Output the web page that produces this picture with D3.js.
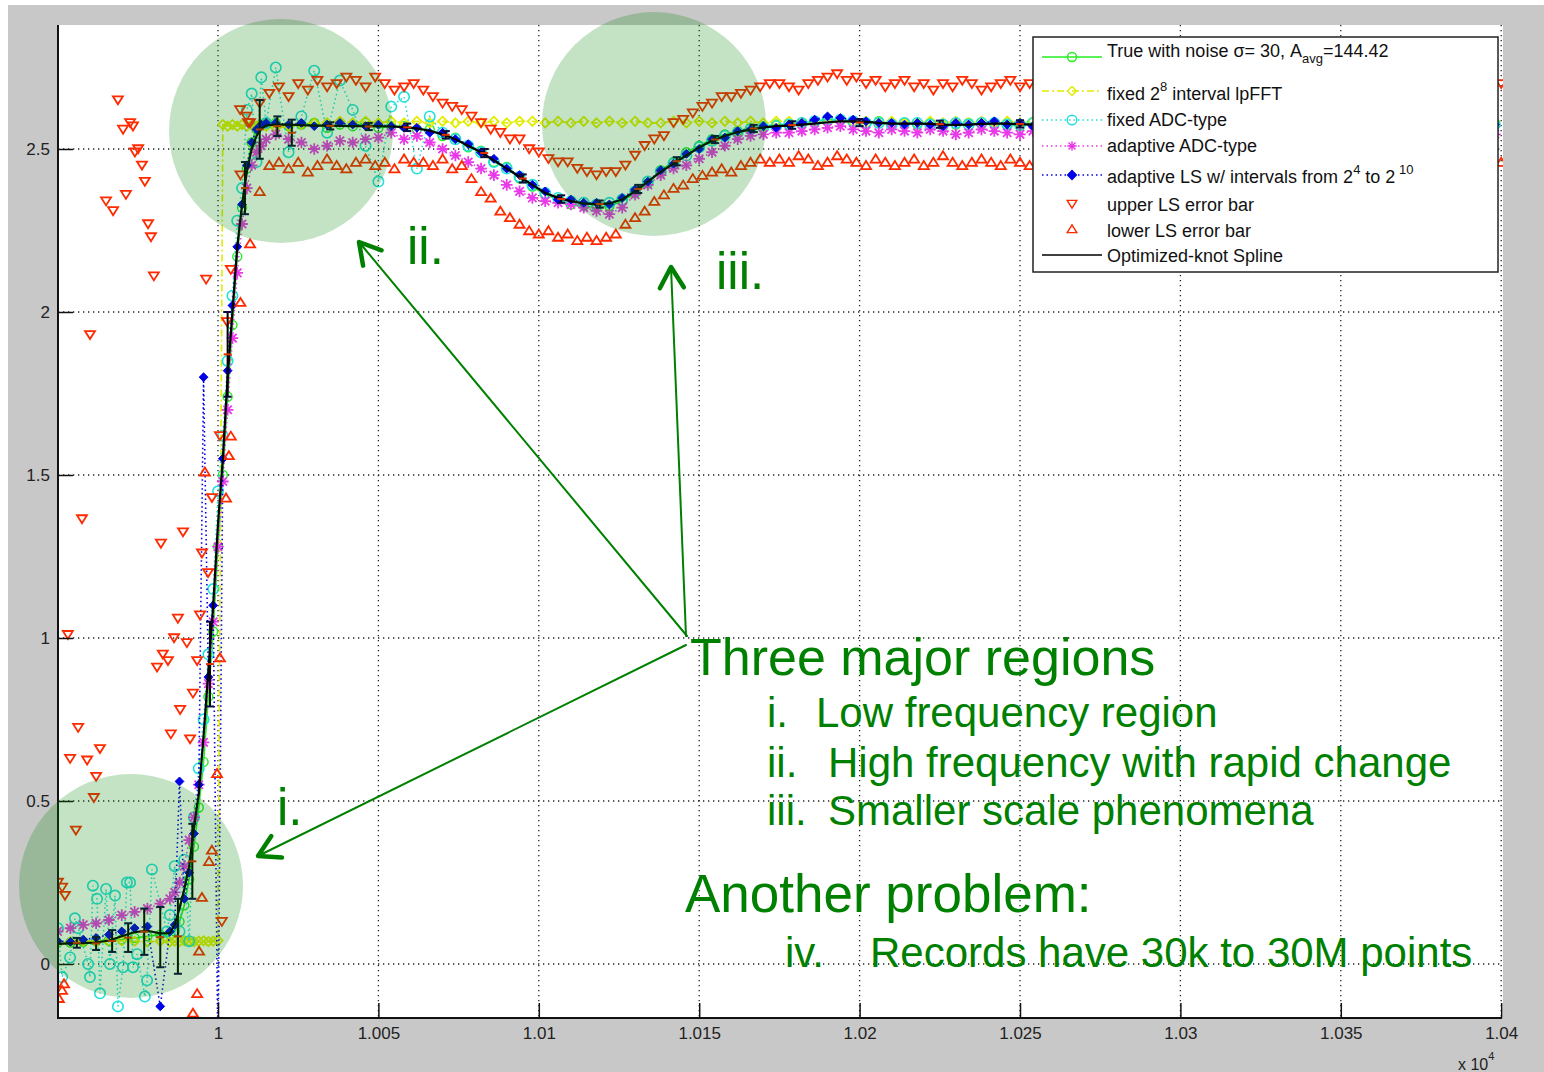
<!DOCTYPE html>
<html>
<head>
<meta charset="utf-8">
<script src="https://cdnjs.cloudflare.com/ajax/libs/d3/7.8.5/d3.min.js"></script>
<style>
  body { margin: 0; background: #fff; }
  svg { display: block; font-family: "Liberation Sans", Arial, sans-serif; }
</style>
</head>
<body>
<svg role="chart"></svg>
<script>
// ---- data (x in raw units, axis shows x / 1e4) ----
var xTickValues = [10000, 10050, 10100, 10150, 10200, 10250, 10300, 10350, 10400];
var xTickLabels = ['1', '1.005', '1.01', '1.015', '1.02', '1.025', '1.03', '1.035', '1.04'];
var yTickValues = [0, 0.5, 1, 1.5, 2, 2.5];
var yTickLabels = ['0', '0.5', '1', '1.5', '2', '2.5'];

// sample positions of the smooth series: flat start, the step, the rest
var xSegA = d3.range(9950, 9985, 4);      // 9
var xSegB = d3.range(9985, 10016, 1.5);   // 21
var xSegC = d3.range(10018, 10400, 4);    // 96
var xErrBand = d3.range(10004, 10401, 3); // 133

// Optimized-knot Spline
var splineA = [0.062,0.063,0.064,0.066,0.072,0.085,0.098,0.102,0.094];
var splineB = [0.095,0.12,0.17,0.23,0.30,0.42,0.52,0.70,0.90,1.10,1.35,1.55,1.80,2.00,2.20,2.33,2.43,2.50,2.54,2.562,2.572];
var splineC = [
  2.575,2.575,2.573,2.572,2.572,2.571,2.570,2.570,2.570,2.569,
  2.567,2.563,2.556,2.545,2.530,2.510,2.490,2.465,2.440,2.415,
  2.390,2.365,2.350,2.340,2.333,2.330,2.333,2.345,2.370,2.400,
  2.430,2.455,2.480,2.505,2.525,2.540,2.552,2.560,2.566,2.570,
  2.572,2.575,2.578,2.582,2.585,2.585,2.583,2.580,2.578,2.578,
  2.578,2.577,2.575,2.574,2.575,2.577,2.578,2.578,2.576,2.575,
  2.574,2.573,2.574,2.576,2.577,2.577,2.576,2.575,2.574,2.574,
  2.575,2.576,2.577,2.577,2.576,2.575,2.574,2.574,2.575,2.576,
  2.577,2.577,2.576,2.575,2.574,2.574,2.575,2.576,2.576,2.575,
  2.574,2.574,2.575,2.576,2.576,2.575];

// True with noise
var truthA = [0.065,0.066,0.068,0.07,0.072,0.075,0.08,0.085,0.09];
var truthB = [0.09,0.10,0.13,0.18,0.26,0.36,0.48,0.62,0.82,1.02,1.28,1.50,1.74,1.96,2.17,2.32,2.44,2.52,2.56,2.575,2.58];
var truthC = [
  2.58,2.57,2.575,2.58,2.565,2.575,2.57,2.58,2.565,2.57,
  2.57,2.56,2.56,2.54,2.535,2.505,2.495,2.46,2.445,2.41,
  2.385,2.36,2.345,2.33,2.325,2.32,2.325,2.34,2.365,2.395,
  2.435,2.46,2.49,2.51,2.53,2.545,2.555,2.565,2.57,2.575,
  2.575,2.58,2.585,2.59,2.59,2.585,2.58,2.585,2.575,2.58,
  2.575,2.58,2.57,2.575,2.58,2.575,2.58,2.575,2.57,2.58,
  2.575,2.57,2.58,2.575,2.58,2.575,2.57,2.58,2.575,2.57,
  2.58,2.575,2.58,2.57,2.575,2.58,2.57,2.575,2.58,2.575,
  2.57,2.58,2.575,2.57,2.58,2.575,2.57,2.575,2.58,2.575,
  2.57,2.58,2.575,2.57,2.58,2.575];

// fixed 2^8 interval lpFFT
var lpfftA = [0.065,0.068,0.07,0.068,0.07,0.072,0.07,0.068,0.07];
var lpfftB = [0.068,0.07,0.069,0.071,0.07,0.068,0.07,0.071,0.069,0.07,0.072,2.575,2.57,2.575,2.57,2.575,2.57,2.575,2.57,2.575,2.57];
var lpfftC = [
  2.565,2.57,2.575,2.58,2.58,2.585,2.58,2.585,2.58,2.585,
  2.58,2.585,2.58,2.585,2.58,2.585,2.58,2.585,2.58,2.585,
  2.585,2.58,2.585,2.58,2.585,2.58,2.585,2.58,2.585,2.58,
  2.58,2.585,2.58,2.585,2.58,2.585,2.58,2.585,2.58,2.585,
  2.585,2.58,2.585,2.58,2.585,2.58,2.585,2.58,2.585,2.58,
  2.58,2.585,2.58,2.585,2.58,2.585,2.58,2.585,2.58,2.585,
  2.585,2.58,2.585,2.58,2.585,2.58,2.585,2.58,2.585,2.58,
  2.58,2.585,2.58,2.585,2.58,2.585,2.58,2.585,2.58,2.585,
  2.585,2.58,2.585,2.58,2.585,2.58,2.585,2.58,2.585,2.58,
  2.58,2.585,2.58,2.585,2.58,2.585];

// fixed ADC-type (own scattered samples before the step)
var fixAdcLeftX = [9950.1,9951.4,9953.9,9955.4,9956.4,9959.5,9960.1,9961.0,9962.3,9963.2,9965.1,9966.3,9967.9,9968.8,9970.4,9971.6,9972.6,9973.5,9974.8,9977.2,9977.9,9979.4,9984.1];
var fixAdcLeftY = [0.11,-0.04,0.02,0.14,0.11,0.0,-0.04,0.24,0.20,-0.09,0.23,0.0,0.21,-0.13,-0.01,0.25,0.25,-0.01,0.03,-0.10,-0.05,0.29,0.10];
var fixAdcB = [0.15,0.30,0.10,0.32,0.07,0.45,0.60,0.75,0.95,1.15,1.45,1.62,1.85,2.05,2.28,2.38,2.62,2.67,2.46,2.72,2.58];
var fixAdcC = [
  2.75,2.49,2.60,2.74,2.55,2.71,2.62,2.51,2.40,2.63,
  2.66,2.44,2.60,2.55,2.53,2.51,2.49,2.46,2.44,2.415,
  2.39,2.365,2.35,2.34,2.335,2.33,2.335,2.345,2.37,2.40,
  2.43,2.455,2.48,2.505,2.525,2.54,2.55,2.56,2.565,2.57,
  2.575,2.58,2.585,2.59,2.59,2.585,2.58,2.58,2.575,2.58,
  2.58,2.575,2.575,2.58,2.575,2.58,2.58,2.575,2.575,2.58,
  2.575,2.575,2.58,2.575,2.58,2.58,2.575,2.575,2.58,2.575,
  2.58,2.575,2.58,2.58,2.575,2.575,2.58,2.575,2.58,2.58,
  2.575,2.58,2.58,2.575,2.575,2.58,2.575,2.58,2.58,2.575,
  2.575,2.58,2.575,2.58,2.58,2.575];

// adaptive ADC-type
var adaAdcA = [0.10,0.11,0.12,0.125,0.135,0.15,0.16,0.17,0.185];
var adaAdcB = [0.20,0.22,0.25,0.30,0.38,0.45,0.55,0.68,0.86,1.05,1.28,1.48,1.70,1.92,2.12,2.27,2.38,2.45,2.49,2.51,2.53];
var adaAdcC = [
  2.545,2.53,2.52,2.50,2.51,2.525,2.52,2.53,2.535,2.55,
  2.53,2.54,2.52,2.50,2.48,2.46,2.44,2.42,2.39,2.37,
  2.35,2.34,2.335,2.33,2.32,2.31,2.30,2.32,2.36,2.39,
  2.42,2.44,2.45,2.47,2.49,2.51,2.53,2.54,2.545,2.55,
  2.55,2.555,2.56,2.565,2.57,2.56,2.555,2.55,2.56,2.555,
  2.55,2.56,2.555,2.545,2.55,2.56,2.555,2.55,2.545,2.555,
  2.56,2.55,2.545,2.555,2.56,2.55,2.545,2.55,2.56,2.555,
  2.55,2.545,2.555,2.56,2.55,2.545,2.55,2.56,2.555,2.55,
  2.545,2.55,2.56,2.555,2.545,2.55,2.56,2.55,2.545,2.555,
  2.56,2.55,2.545,2.555,2.55,2.545];

// adaptive LS w/ intervals from 2^4 to 2^10
var adaLsA = [0.07,0.068,0.075,0.08,0.09,0.10,0.11,0.115,-0.13];
var adaLsB = [0.10,0.12,0.56,0.20,0.28,0.40,0.55,1.80,0.88,1.10,-0.30,1.55,1.82,2.02,2.20,2.33,2.45,2.52,2.56,2.575,2.58];
var adaLsC = [
  2.58,2.575,2.58,2.57,2.575,2.58,2.575,2.57,2.575,2.57,
  2.565,2.565,2.55,2.55,2.53,2.515,2.49,2.47,2.44,2.42,
  2.39,2.37,2.345,2.345,2.335,2.335,2.33,2.35,2.375,2.40,
  2.435,2.455,2.485,2.50,2.53,2.535,2.555,2.56,2.57,2.565,
  2.575,2.58,2.59,2.60,2.595,2.59,2.585,2.58,2.58,2.575,
  2.58,2.575,2.57,2.58,2.575,2.58,2.585,2.575,2.58,2.57,
  2.575,2.58,2.57,2.58,2.575,2.585,2.575,2.57,2.58,2.575,
  2.575,2.58,2.58,2.575,2.57,2.58,2.575,2.57,2.575,2.58,
  2.58,2.575,2.58,2.57,2.575,2.57,2.58,2.575,2.58,2.57,
  2.575,2.57,2.58,2.575,2.58,2.575];

// upper / lower LS error bar
var upperLeftX = [9950.1,9951.4,9952.3,9953.2,9953.9,9955.7,9956.4,9957.6,9959.2,9960.1,9961.3,9962.0,9963.2,9965.1,9967.3,9968.8,9970.4,9971.3,9972.6,9973.5,9974.1,9975.1,9976.3,9977.2,9978.2,9979.1,9980.0,9981.0,9982.2,9982.8,9984.4,9985.3,9986.3,9987.5,9988.2,9989.1,9990.3,9991.3,9992.2,9993.5,9994.4,9995.0,9996.3,9996.9,9998.1,10000.6,10001.2,10002.8,10006.9,10008.8,10009.4];
var upperLeftY = [0.25,0.235,0.21,1.01,0.63,0.41,0.725,1.365,0.625,1.93,0.51,0.575,0.66,2.34,2.31,2.65,2.56,2.36,2.58,2.57,2.49,2.50,2.45,2.40,2.27,2.23,2.11,0.91,1.29,0.95,0.93,0.705,1.00,1.06,0.78,1.325,0.985,0.69,0.83,0.93,1.07,1.26,2.10,1.20,1.43,1.62,0.13,1.97,2.62,2.60,2.58];
var upperBand = [
  2.13,2.42,2.58,2.64,2.67,2.69,2.66,2.70,2.68,2.71,
  2.69,2.70,2.72,2.71,2.69,2.72,2.70,2.68,2.69,2.70,
  2.68,2.66,2.64,2.63,2.62,2.60,2.58,2.56,2.55,2.53,
  2.53,2.50,2.49,2.47,2.46,2.46,2.44,2.43,2.42,2.43,
  2.43,2.45,2.48,2.51,2.53,2.54,2.58,2.59,2.61,2.63,
  2.64,2.66,2.66,2.67,2.68,2.69,2.70,2.70,2.69,2.68,
  2.70,2.71,2.72,2.73,2.71,2.72,2.70,2.71,2.69,2.70,
  2.71,2.69,2.70,2.68,2.70,2.69,2.71,2.70,2.68,2.69,
  2.70,2.71,2.69,2.70,2.72,2.70,2.69,2.71,2.70,2.69,
  2.70,2.68,2.69,2.70,2.69,2.70,2.68,2.69,2.70,2.69,
  2.70,2.69,2.68,2.70,2.69,2.68,2.70,2.69,2.68,2.69,
  2.68,2.69,2.68,2.67,2.69,2.68,2.67,2.68,2.69,2.68,
  2.68,2.67,2.68,2.69,2.68,2.67,2.68,2.69,2.68,2.67,
  2.68,2.69,2.70];
var lowerLeftX = [9950.4,9951.4,9952.0,9992.2,9993.5,9994.1,9995.0,9995.9,9997.2,9998.1,9999.7,10000.6,10002.5,10003.4];
var lowerLeftY = [-0.105,-0.08,-0.06,-0.15,-0.09,0.04,0.205,1.51,0.315,0.35,0.585,0.94,1.43,1.56];
var lowerBand = [
  1.62,2.03,2.21,2.37,2.45,2.46,2.44,2.46,2.43,2.45,
  2.47,2.45,2.44,2.46,2.47,2.45,2.46,2.44,2.47,2.46,
  2.46,2.45,2.47,2.44,2.45,2.41,2.37,2.35,2.31,2.29,
  2.27,2.25,2.24,2.25,2.23,2.24,2.22,2.23,2.22,2.23,
  2.24,2.27,2.29,2.31,2.34,2.36,2.38,2.39,2.41,2.42,
  2.43,2.44,2.43,2.45,2.46,2.47,2.46,2.47,2.46,2.48,
  2.47,2.45,2.46,2.48,2.47,2.46,2.45,2.47,2.46,2.45,
  2.46,2.47,2.45,2.46,2.48,2.46,2.45,2.46,2.47,2.46,
  2.45,2.47,2.46,2.45,2.46,2.47,2.45,2.46,2.44,2.46,
  2.45,2.46,2.44,2.45,2.47,2.45,2.46,2.44,2.45,2.46,
  2.46,2.45,2.47,2.45,2.46,2.45,2.47,2.46,2.45,2.46,
  2.45,2.46,2.47,2.45,2.46,2.47,2.45,2.46,2.47,2.45,
  2.46,2.47,2.45,2.46,2.47,2.46,2.45,2.47,2.46,2.45,
  2.46,2.47,2.46];

// black LS error bars
var errX  = [9956,9962,9967,9972,9977,9982,9987.5,9992,9997.5,10003,10008.4,10013,10018.5,10023,10035,10047,10059,10071,10083,10095,10107,10119,10131,10143,10155,10167,10179,10200,10225,10250,10280,10310,10340,10370];
var errLo = [0.05,0.043,0.037,0.037,0.028,-0.01,-0.03,0.20,0.79,1.74,2.30,2.47,2.54,2.51,2.560,2.558,2.555,2.532,2.475,2.397,2.335,2.320,2.365,2.450,2.518,2.552,2.562,2.570,2.565,2.566,2.565,2.566,2.565,2.564];
var errHi = [0.08,0.083,0.104,0.125,0.17,0.175,0.20,0.43,1.05,2.00,2.46,2.65,2.60,2.59,2.582,2.580,2.578,2.555,2.500,2.422,2.358,2.342,2.390,2.475,2.540,2.574,2.585,2.592,2.587,2.588,2.587,2.588,2.587,2.586];

(function(){

  function zip(xs, ys, name) {
    if (xs.length !== ys.length) console.log('[!] length mismatch in', name, xs.length, ys.length);
    return xs.map(function(d, i) { return [d, ys[i]]; });
  }

  var xMain = xSegA.concat(xSegB, xSegC);
  var xStep = xSegB.concat(xSegC);

  var series = {
    truth:  zip(xMain, truthA.concat(truthB, truthC), 'truth'),
    lpfft:  zip(xMain, lpfftA.concat(lpfftB, lpfftC), 'lpfft'),
    fixAdc: zip(fixAdcLeftX, fixAdcLeftY, 'fixAdcLeft').concat(zip(xStep, fixAdcB.concat(fixAdcC), 'fixAdc')),
    adaAdc: zip(xMain, adaAdcA.concat(adaAdcB, adaAdcC), 'adaAdc'),
    adaLs:  zip(xMain, adaLsA.concat(adaLsB, adaLsC), 'adaLs'),
    upper:  zip(upperLeftX, upperLeftY, 'upperLeft').concat(zip(xErrBand, upperBand, 'upper')),
    lower:  zip(lowerLeftX, lowerLeftY, 'lowerLeft').concat(zip(xErrBand, lowerBand, 'lower')),
    spline: zip(xMain, splineA.concat(splineB, splineC), 'spline')
  };

  var styles = {
    truth:  { stroke: '#22ee22', dash: null, width: 1.6, marker: 'circle', size: 4.5, fill: 'none', mw: 1.4 },
    lpfft:  { stroke: '#e2ec00', dash: '7,3,2,3', width: 1.6, marker: 'diamond', size: 4.6, fill: 'none', mw: 1.8 },
    fixAdc: { stroke: '#22e0dc', dash: '1.5,3', width: 1.5, marker: 'circle', size: 5.2, fill: 'none', mw: 1.6 },
    adaAdc: { stroke: '#e83ae8', dash: '1.5,3', width: 1.5, marker: 'star', size: 5.8, fill: 'none', mw: 1.8 },
    adaLs:  { stroke: '#0000e6', dash: '1.5,3', width: 1.6, marker: 'diamond', size: 4.4, fill: '#0000e6', mw: 1 },
    upper:  { stroke: '#ff2a00', dash: 'none', marker: 'tdown', size: 5, fill: 'none', mw: 1.8 },
    lower:  { stroke: '#ff2a00', dash: 'none', marker: 'tup', size: 5, fill: 'none', mw: 1.8 },
    spline: { stroke: '#000', dash: null, width: 2.2, marker: null }
  };

  var W = 1544, H = 1072;
  var plot = { left: 58, top: 25, right: 1503, bottom: 1018 };

  var svg = d3.select('[role="chart"]').attr('width', W).attr('height', H);

  // grey figure background and white axes area
  svg.append('rect').attr('x', 8).attr('y', 5).attr('width', W - 8).attr('height', H - 5).attr('fill', '#c8c8c8');
  svg.append('rect').attr('x', plot.left).attr('y', plot.top)
    .attr('width', plot.right - plot.left).attr('height', plot.bottom - plot.top).attr('fill', '#fff');

  var x = d3.scaleLinear().domain([9950, 10400]).range([57.6, 1501.2]);
  var y = d3.scaleLinear().domain([0, 2.5]).range([964, 149]);

  // dotted grid
  var grid = svg.append('g').attr('stroke', '#222').attr('stroke-width', 1.3).attr('stroke-dasharray', '1.3,3.7');
  grid.selectAll('line.v').data(xTickValues).enter().append('line').attr('class', 'v')
    .attr('x1', function(d) { return x(d); }).attr('x2', function(d) { return x(d); })
    .attr('y1', plot.top).attr('y2', plot.bottom);
  grid.selectAll('line.h').data(yTickValues).enter().append('line').attr('class', 'h')
    .attr('x1', plot.left).attr('x2', plot.right)
    .attr('y1', function(d) { return y(d); }).attr('y2', function(d) { return y(d); });

  // markers
  function symbolPath(type, s) {
    var a = s * 0.72;
    switch (type) {
      case 'circle':
        return 'M' + (-s) + ',0A' + s + ',' + s + ' 0 1,0 ' + s + ',0A' + s + ',' + s + ' 0 1,0 ' + (-s) + ',0Z';
      case 'diamond':
        return 'M0,' + (-s) + 'L' + s + ',0L0,' + s + 'L' + (-s) + ',0Z';
      case 'tdown':
        return 'M' + (-s) + ',' + (-s * 0.75) + 'L' + s + ',' + (-s * 0.75) + 'L0,' + (s * 0.85) + 'Z';
      case 'tup':
        return 'M' + (-s) + ',' + (s * 0.75) + 'L' + s + ',' + (s * 0.75) + 'L0,' + (-s * 0.85) + 'Z';
      case 'star':
        return 'M' + (-s) + ',0L' + s + ',0M0,' + (-s) + 'L0,' + s +
               'M' + (-a) + ',' + (-a) + 'L' + a + ',' + a + 'M' + (-a) + ',' + a + 'L' + a + ',' + (-a);
    }
    return '';
  }

  svg.append('clipPath').attr('id', 'plotclip').append('rect')
    .attr('x', plot.left).attr('y', plot.top)
    .attr('width', plot.right - plot.left).attr('height', plot.bottom - plot.top);

  var data = svg.append('g').attr('clip-path', 'url(#plotclip)');

  var line = d3.line()
    .x(function(d) { return x(d[0]); })
    .y(function(d) { return y(d[1]); });

  function drawSeries(key) {
    var st = styles[key], pts = series[key];
    var g = data.append('g').attr('class', 's-' + key);
    if (st.dash !== 'none') {
      g.append('path').datum(pts)
        .attr('d', line)
        .attr('fill', 'none')
        .attr('stroke', st.stroke)
        .attr('stroke-width', st.width)
        .attr('stroke-dasharray', st.dash);
    }
    if (st.marker) {
      g.selectAll('path.m').data(pts).enter().append('path').attr('class', 'm')
        .attr('transform', function(d) { return 'translate(' + x(d[0]) + ',' + y(d[1]) + ')'; })
        .attr('d', symbolPath(st.marker, st.size))
        .attr('fill', st.fill)
        .attr('stroke', st.stroke)
        .attr('stroke-width', st.mw);
    }
  }

  ['truth', 'lpfft', 'fixAdc', 'adaAdc', 'adaLs', 'upper', 'lower', 'spline'].forEach(drawSeries);

  // LS error bars
  var bars = data.append('g').attr('class', 'errbars');
  var errRows = errX.map(function(d, i) { return { x: d, lo: errLo[i], hi: errHi[i] }; });
  var eb = bars.selectAll('g').data(errRows).enter().append('g');
  eb.append('line')
    .attr('x1', function(d) { return x(d.x); }).attr('x2', function(d) { return x(d.x); })
    .attr('y1', function(d) { return y(d.lo); }).attr('y2', function(d) { return y(d.hi); })
    .attr('stroke', '#000').attr('stroke-width', 2);
  ['lo', 'hi'].forEach(function(k) {
    eb.append('line')
      .attr('x1', function(d) { return x(d.x) - 4; }).attr('x2', function(d) { return x(d.x) + 4; })
      .attr('y1', function(d) { return y(d[k]); }).attr('y2', function(d) { return y(d[k]); })
      .attr('stroke', '#0a0a40').attr('stroke-width', 2);
  });
  eb.append('line')
    .attr('x1', function(d) { return x(d.x) - 4; }).attr('x2', function(d) { return x(d.x) + 4; })
    .attr('y1', function(d) { return y((d.lo + d.hi) / 2); }).attr('y2', function(d) { return y((d.lo + d.hi) / 2); })
    .attr('stroke', '#e03000').attr('stroke-width', 2);

  // axes
  var yAxis = d3.axisLeft(y).tickValues(yTickValues).tickSize(-15).tickPadding(8)
    .tickFormat(function(d, i) { return yTickLabels[i]; });
  var xAxis = d3.axisBottom(x).tickValues(xTickValues).tickSize(-15).tickPadding(9)
    .tickFormat(function(d, i) { return xTickLabels[i]; });

  function styleAxis(g) {
    g.select('.domain').remove();
    g.selectAll('.tick line').attr('stroke', '#111').attr('stroke-width', 1.5);
    g.selectAll('.tick text').attr('fill', '#222').style('font-size', '17px')
      .style('font-family', '"Liberation Sans", Arial, sans-serif');
  }
  svg.append('g').attr('transform', 'translate(' + plot.left + ',0)').call(yAxis).call(styleAxis);
  svg.append('g').attr('transform', 'translate(0,' + plot.bottom + ')').call(xAxis).call(styleAxis);

  svg.append('line').attr('x1', plot.left).attr('x2', plot.left).attr('y1', plot.top).attr('y2', plot.bottom + 1)
    .attr('stroke', '#111').attr('stroke-width', 2);
  svg.append('line').attr('x1', plot.left - 1).attr('x2', plot.right - 1).attr('y1', plot.bottom).attr('y2', plot.bottom)
    .attr('stroke', '#111').attr('stroke-width', 2);

  // x 10^4 multiplier
  var mult = svg.append('text').attr('x', 1458).attr('y', 1070).attr('fill', '#222').style('font-size', '16px');
  mult.append('tspan').text('x 10');
  mult.append('tspan').attr('dy', -10).style('font-size', '11px').text('4');

  // legend
  var legendRows = [
    { key: 'truth',  lineY: 57,  textY: 57,  parts: [['True with noise  \u03c3= 30, A', 0, 18], ['avg', 6, 13], ['=144.42', -6, 18]] },
    { key: 'lpfft',  lineY: 91,  textY: 100, parts: [['fixed 2', 0, 18], ['8', -9, 13], [' interval lpFFT', 9, 18]] },
    { key: 'fixAdc', lineY: 120, textY: 126, parts: [['fixed ADC-type', 0, 18]] },
    { key: 'adaAdc', lineY: 146, textY: 152, parts: [['adaptive ADC-type', 0, 18]] },
    { key: 'adaLs',  lineY: 175, textY: 183, parts: [['adaptive LS w/ intervals from 2', 0, 18], ['4', -9, 13], [' to 2', 9, 18], [' 10', -9, 13]] },
    { key: 'upper',  lineY: 204, textY: 211, parts: [['upper LS error bar', 0, 18]] },
    { key: 'lower',  lineY: 229, textY: 237, parts: [['lower LS error bar', 0, 18]] },
    { key: 'spline', lineY: 255, textY: 262, parts: [['Optimized-knot Spline', 0, 18]] }
  ];

  var legend = svg.append('g').attr('class', 'legend');
  legend.append('rect').attr('x', 1033).attr('y', 37).attr('width', 465).attr('height', 235)
    .attr('fill', '#fff').attr('stroke', '#222').attr('stroke-width', 1.5);

  legendRows.forEach(function(r) {
    var st = styles[r.key];
    var row = legend.append('g');
    if (st.dash !== 'none') {
      row.append('line').attr('x1', 1042).attr('x2', 1102).attr('y1', r.lineY).attr('y2', r.lineY)
        .attr('stroke', st.stroke).attr('stroke-width', 1.5).attr('stroke-dasharray', st.dash);
    }
    if (st.marker) {
      row.append('path').attr('transform', 'translate(1072,' + r.lineY + ')')
        .attr('d', symbolPath(st.marker, Math.min(st.size, 4.8))).attr('fill', st.fill)
        .attr('stroke', st.stroke).attr('stroke-width', 1.4);
    }
    var t = row.append('text').attr('x', 1107).attr('y', r.textY).attr('fill', '#111');
    r.parts.forEach(function(p) {
      t.append('tspan').attr('dy', p[1]).style('font-size', p[2] + 'px').text(p[0]);
    });
  });

  // highlighted regions
  var spots = [{ cx: 131, cy: 886, r: 112 }, { cx: 281, cy: 131, r: 112 }, { cx: 654, cy: 124, r: 112 }];
  svg.append('g').selectAll('circle').data(spots).enter().append('circle')
    .attr('cx', function(d) { return d.cx; }).attr('cy', function(d) { return d.cy; })
    .attr('r', function(d) { return d.r; })
    .attr('fill', 'rgb(0,128,0)').attr('fill-opacity', 0.23);

  // arrows from the note to the regions
  var arrows = [
    { from: [687, 636], tip: [359, 242] },
    { from: [686, 636], tip: [671, 267] },
    { from: [686, 645], tip: [258, 856] }
  ];
  var ann = svg.append('g').attr('stroke', '#008000').attr('fill', 'none').attr('stroke-linecap', 'round');
  arrows.forEach(function(a) {
    ann.append('line').attr('x1', a.from[0]).attr('y1', a.from[1]).attr('x2', a.tip[0]).attr('y2', a.tip[1])
      .attr('stroke-width', 2);
    var dx = a.from[0] - a.tip[0], dy = a.from[1] - a.tip[1];
    var len = Math.sqrt(dx * dx + dy * dy), ux = dx / len, uy = dy / len;
    var ang = Math.PI / 6, L = 24;
    var w1 = [a.tip[0] + L * (ux * Math.cos(ang) - uy * Math.sin(ang)), a.tip[1] + L * (ux * Math.sin(ang) + uy * Math.cos(ang))];
    var w2 = [a.tip[0] + L * (ux * Math.cos(-ang) - uy * Math.sin(-ang)), a.tip[1] + L * (ux * Math.sin(-ang) + uy * Math.cos(-ang))];
    ann.append('path')
      .attr('d', 'M' + w1[0] + ',' + w1[1] + 'L' + a.tip[0] + ',' + a.tip[1] + 'L' + w2[0] + ',' + w2[1])
      .attr('stroke-width', 4.5).attr('stroke-linejoin', 'round');
  });

  var notes = [
    { t: 'ii.', x: 407, y: 264, s: 51 },
    { t: 'iii.', x: 716, y: 289, s: 51 },
    { t: 'i.', x: 277, y: 825, s: 51 },
    { t: 'Three major regions', x: 690, y: 675, s: 52 },
    { t: 'i.', x: 767, y: 727, s: 42 },
    { t: 'Low frequency region', x: 816, y: 727, s: 42 },
    { t: 'ii.', x: 767, y: 777, s: 42 },
    { t: 'High frequency with rapid change', x: 828, y: 777, s: 42 },
    { t: 'iii.', x: 767, y: 825, s: 42 },
    { t: 'Smaller scale phenomena', x: 828, y: 825, s: 42 },
    { t: 'Another problem:', x: 685, y: 912, s: 53 },
    { t: 'iv.', x: 785, y: 967, s: 42 },
    { t: 'Records have 30k to 30M points', x: 870, y: 967, s: 42 }
  ];
  svg.append('g').selectAll('text').data(notes).enter().append('text')
    .attr('x', function(d) { return d.x; }).attr('y', function(d) { return d.y; })
    .style('font-size', function(d) { return d.s + 'px'; })
    .attr('fill', '#008000')
    .text(function(d) { return d.t; });

  console.log('[i] chart drawn');
})();
</script>
</body>
</html>
